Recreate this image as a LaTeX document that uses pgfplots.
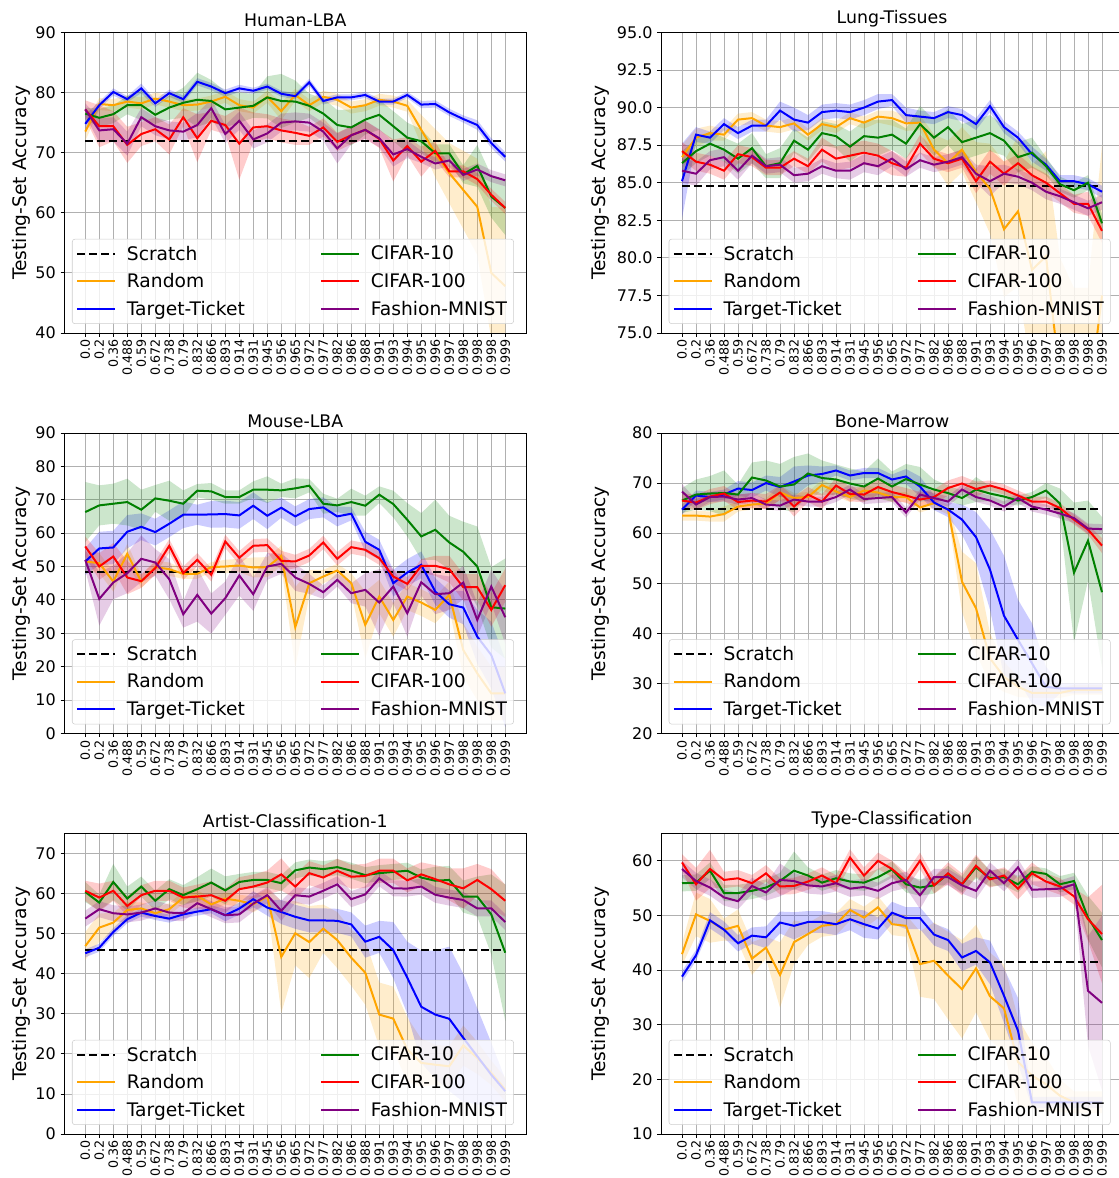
\documentclass[border=0pt]{standalone}
\usepackage{fontspec}
\setmainfont{DejaVu Sans}
\usepackage{pgfplots}
\usepackage{pgfplotstable}
\pgfplotsset{compat=1.18}
\usepgfplotslibrary{fillbetween}

\definecolor{cRnd}{RGB}{255,165,0}
\definecolor{cTT}{RGB}{0,0,255}
\definecolor{cCten}{RGB}{0,128,0}
\definecolor{cChun}{RGB}{255,0,0}
\definecolor{cFM}{RGB}{128,0,128}
\definecolor{gridgray}{RGB}{176,176,176}

% columns: k, Random (r), Target-Ticket (t), CIFAR-10 (c), CIFAR-100 (h), Fashion-MNIST (f); *s = spread
\pgfplotstableread{
k r rs t ts c cs h hs f fs
0 73.5 1.5 74.8 1.5 76.5 1.0 77.2 1.5 77.2 1.0
1 78.1 1.0 77.9 0.6 75.8 1.5 74.4 3.5 73.7 2.0
2 77.9 1.0 80.1 0.6 76.4 1.5 74.4 2.5 73.9 2.0
3 78.5 1.0 78.9 0.5 77.9 1.5 71.3 3.0 71.5 2.0
4 78.2 1.0 80.7 0.8 77.9 2.5 73.1 2.0 75.9 1.5
5 79.0 1.0 78.2 0.6 76.3 1.5 73.9 2.0 74.4 1.5
6 78.5 1.0 79.9 0.6 77.5 2.0 72.2 2.5 73.7 1.5
7 77.9 1.0 78.9 0.6 78.3 2.5 75.9 1.5 73.5 1.5
8 78.0 1.0 81.8 0.6 78.8 4.5 72.4 4.0 74.6 2.0
9 78.5 1.0 81.0 0.6 78.6 3.5 75.3 1.5 77.4 1.5
10 79.3 1.0 79.9 0.6 77.2 3.0 74.6 1.5 73.1 1.5
11 77.9 1.0 80.7 0.6 77.5 2.5 71.5 6.0 75.3 1.5
12 77.5 1.0 80.3 0.5 77.8 2.0 74.2 2.5 72.2 1.5
13 79.3 1.0 81.0 0.5 79.2 3.5 74.4 2.0 73.2 1.5
14 76.9 1.5 79.8 0.5 78.6 4.5 73.7 2.0 75.0 1.5
15 79.6 1.0 79.4 0.5 78.5 3.5 73.3 2.0 75.2 1.5
16 77.9 1.0 81.7 0.6 77.8 2.0 72.8 1.5 75.0 1.5
17 79.3 1.0 78.6 0.6 76.5 2.5 74.2 1.5 73.5 1.5
18 78.8 1.0 79.2 0.5 74.6 2.5 71.8 1.5 70.7 2.5
19 77.5 1.0 79.2 0.5 74.2 3.0 72.9 1.5 72.9 1.5
20 77.9 1.0 79.6 0.5 75.5 2.5 73.8 1.5 73.8 1.5
21 78.8 1.0 78.5 0.5 76.3 2.5 72.3 1.5 72.4 1.5
22 78.5 1.0 78.5 0.5 74.4 2.5 68.7 3.5 69.7 2.0
23 77.8 1.0 79.6 0.5 72.5 2.5 71.1 1.5 70.6 1.5
24 73.8 2.5 78.0 0.6 71.9 2.0 68.5 2.5 69.3 1.0
25 69.9 4.0 78.1 0.6 69.9 1.5 70.3 1.5 68.2 1.0
26 66.6 5.0 76.7 0.6 69.9 1.5 66.9 1.0 68.7 1.0
27 63.8 6.5 75.6 0.6 66.4 1.5 66.9 1.0 66.3 1.0
28 61.0 8.0 74.6 0.8 67.8 3.5 65.6 1.0 67.2 1.0
29 50.0 11.0 71.6 0.8 62.7 3.5 63.0 1.0 66.1 1.0
30 47.8 13.0 69.3 0.8 60.8 4.5 60.8 1.0 65.4 1.0
}\tabHuman

\pgfplotstableread{
k r rs t ts c cs h hs f fs
0 86.7 0.8 85.1 2.5 86.3 0.8 87.1 0.6 85.8 0.8
1 88.0 0.6 88.2 0.5 87.1 0.8 86.4 0.6 85.6 0.8
2 88.3 0.5 88.0 0.4 87.6 0.8 86.2 0.6 86.5 0.6
3 88.2 0.4 88.9 0.4 87.2 0.8 85.8 0.6 86.7 0.6
4 89.2 0.4 88.3 0.4 86.6 1.0 86.9 0.6 85.8 0.6
5 89.3 0.4 88.8 0.4 87.3 1.0 86.7 0.6 86.8 0.5
6 88.8 0.4 88.8 0.4 86.1 0.8 86.0 0.5 86.1 0.5
7 88.7 0.4 89.8 0.6 86.3 1.0 86.0 0.5 86.2 0.5
8 88.95 0.4 89.2 0.8 87.8 0.8 86.6 0.5 85.5 0.5
9 88.2 0.4 89.0 0.5 87.2 0.8 86.1 0.5 85.6 0.5
10 88.9 0.4 89.7 0.5 88.3 0.8 87.2 0.8 86.1 0.5
11 88.7 0.4 89.8 0.5 88.1 0.8 86.6 0.8 85.8 0.5
12 89.3 0.4 89.7 0.5 87.4 1.0 86.8 0.8 85.8 0.6
13 89.0 0.4 90.0 0.5 88.1 1.0 87.0 0.8 86.3 0.6
14 89.4 0.4 90.4 0.5 88.0 1.2 86.8 0.8 86.1 0.6
15 89.3 0.5 90.5 0.4 88.2 1.0 86.3 0.8 86.6 0.5
16 88.95 0.5 89.5 0.5 87.6 1.0 86.0 0.6 85.9 0.5
17 89.0 0.5 89.4 0.4 88.9 1.2 87.6 0.6 86.5 0.5
18 87.2 1.0 89.3 0.4 88.0 1.2 86.6 0.6 86.2 0.5
19 86.3 1.5 89.7 0.4 88.7 1.2 86.3 0.6 86.4 0.5
20 87.2 1.5 89.5 0.4 87.7 1.2 86.6 0.6 86.7 0.5
21 85.7 2.0 88.9 0.4 88.0 1.2 85.1 0.8 85.6 0.6
22 84.6 3.0 90.1 0.4 88.3 1.2 86.4 0.8 85.1 1.0
23 81.9 4.5 88.7 0.4 87.8 1.0 85.6 0.8 85.6 0.6
24 83.1 5.0 88.0 0.4 86.7 1.0 86.3 0.6 85.4 0.5
25 79.2 7.0 86.9 0.5 87.0 1.0 85.5 0.6 85.0 0.5
26 80.1 7.0 86.2 0.4 86.1 0.6 85.0 0.6 84.4 0.5
27 72.0 8.0 85.1 0.4 84.9 0.5 84.3 0.6 84.1 0.5
28 70.0 8.0 85.1 0.4 84.5 0.5 83.6 0.6 83.7 0.5
29 70.0 8.0 84.9 0.4 85.0 0.5 83.6 0.8 83.3 0.5
30 77.5 10.0 84.4 0.4 82.3 0.6 81.8 0.8 83.7 0.5
}\tabLung

\pgfplotstableread{
k r rs t ts c cs h hs f fs
0 51.5 3 51.5 4 66.3 9 56.0 3 52.0 3
1 51.0 3 55.4 5 68.3 6 50.0 4 40.3 8
2 45.5 3 55.7 5 68.8 6 53.0 4 45.2 5
3 53.8 3 60.4 5 69.3 7 46.7 5 48.0 6
4 45.5 2 61.9 4 67.0 6 45.6 2 52.3 7
5 49.8 2 60.3 4 70.4 4 49.5 2 51.2 4
6 49.2 2 62.8 4 69.7 6 56.2 2 46.2 6
7 47.8 1.5 65.5 4 68.8 4 48.0 2 35.7 4
8 47.8 1.5 65.5 3 72.7 2 52.0 2 41.5 8
9 49.8 1.5 65.6 4 72.5 2.5 47.5 2 35.9 6
10 50.0 2 65.7 4 70.8 2 57.5 2 40.5 5
11 50.3 2 65.3 4 70.8 2 52.6 2 47.3 6
12 49.7 3 68.2 4 73.0 2.5 56.2 2 41.7 5
13 49.8 3 65.2 4 73.0 4 56.4 2 50.0 4
14 53.2 3 67.6 3 72.8 2 51.7 3 50.8 3
15 31.8 12 65.0 3 73.4 3 51.5 2 46.7 4
16 45.0 4 67.2 3 74.2 2 53.3 2 44.8 3
17 47.0 2 67.7 3 68.8 3 57.2 2 42.3 2
18 48.8 2 65.0 3 68.3 2 52.3 2 46.0 2
19 45.0 3 65.8 2 69.3 4 55.8 2 42.0 3
20 32.5 10 57.4 3 68.2 3 55.0 2 43.0 5
21 41.0 5 55.0 3 71.5 2.5 52.5 2 39.2 10
22 34.0 5 45.0 4 68.7 4 47.0 2 44.0 5
23 41.0 4 48.2 4 64.0 5 44.8 2 36.0 7
24 39.2 4 50.5 4 59.0 7 50.2 2 45.3 4
25 37.0 4 42.5 4 61.0 9 50.2 3 41.7 6
26 41.5 4 38.7 4 57.2 8 49.2 4 42.0 5
27 25.0 8 37.7 5 54.4 9 43.8 4 45.2 5
28 18.0 8 29.0 8 50.0 12 43.8 4 34.0 5
29 12.0 8 23.5 10 37.8 12 37.0 5 44.0 5
30 12.0 8 12.0 10 37.4 15 44.4 5 34.8 8
}\tabMouse

\pgfplotstableread{
k r rs t ts c cs h hs f fs
0 63.5 1 64.7 1 66.5 2.5 66.5 1.5 68.3 1.5
1 63.5 1 67.5 1 67.7 3 66.1 1.5 65.7 1
2 63.3 1 67.2 1 67.9 3.5 67.3 1.5 67.2 1
3 63.8 1.5 67.7 1 68.0 4.5 67.9 1.5 67.3 1
4 65.3 1 68.9 1.5 67.7 2 66.2 1.5 66.7 1
5 65.7 1 68.6 1.5 71.1 3 66.5 1.5 67.0 1
6 65.9 1 70.0 1.5 70.5 4 66.3 1.5 65.7 1
7 68.1 1.5 69.2 2 69.3 4.5 68.1 1.5 65.5 1
8 67.0 1 70.3 3 69.7 5.5 65.3 2 66.7 1
9 67.2 1 71.5 2 71.9 4 67.7 1.5 66.3 1
10 69.6 1 71.8 1.5 71.0 3.5 66.3 1.5 66.3 1
11 68.3 1 72.5 1 70.7 3 69.5 1.5 67.2 1
12 67.2 1 71.5 1 69.9 3 67.8 1.5 68.7 1
13 68.5 1 72.0 1 69.3 3 67.7 1.5 66.8 1
14 68.1 1 72.0 1 70.9 4 69.2 1.5 67.0 1
15 67.2 1 70.7 1 69.3 3 68.2 1.5 67.2 1
16 67.2 1 71.3 1.5 70.8 3 67.5 1.5 64.1 1
17 65.1 1 69.3 2 69.7 3.5 66.7 1.5 67.7 1
18 66.0 1 66.1 1.5 68.7 2 67.2 1.5 67.0 1
19 64.7 1 64.7 1.5 68.0 1.5 69.0 1.5 66.3 1
20 50.3 6 62.7 3 67.0 1.5 69.9 1.5 68.7 1
21 45.0 9 59.2 5 68.7 2.5 68.8 1.5 67.2 1
22 35.0 5 52.7 8 67.9 1.5 69.5 1 66.5 1
23 31.3 3 43.5 12 67.3 1.5 68.7 1 65.3 1
24 29.3 2 38.7 8 66.5 1 67.5 1 67.0 1
25 28.1 1 34.0 8 67.2 1 66.3 1 65.3 1
26 28.1 1 29.3 4 68.5 1.5 66.3 1 64.7 1
27 28.1 1 29.0 1 65.9 3 65.0 1 63.9 1
28 28.7 1 29.0 1 52.1 14 62.7 1 63.0 1
29 28.7 1 29.0 1 58.5 8 60.7 1 60.9 1
30 28.7 1 29.0 1 48.2 15 57.5 1.5 60.8 1
}\tabBone

\pgfplotstableread{
k r rs t ts c cs h hs f fs
0 46.9 3.5 45.1 1 60.4 2.5 60.7 2.5 53.75 2
1 51.5 3.5 46.5 1 57.75 2 59.0 3.5 56.1 2
2 52.75 2.5 50.4 1 62.9 4.5 60.7 2.5 55.1 2
3 55.9 2 53.6 1 58.75 3 56.9 2.5 54.8 2
4 56.3 1.5 55.25 1 61.75 2.5 59.6 2.5 55.25 2
5 55.1 1.5 54.4 1 58.2 2.5 60.7 2.5 56.3 2
6 56.1 1.5 53.75 1 61.1 2.5 60.7 2.5 55.25 2
7 59.0 1.5 54.8 1 59.6 2.5 59.0 2.5 55.1 2
8 59.4 1.5 55.5 1 61.1 3 59.25 3 57.6 2
9 57.3 1.5 56.1 1 62.75 3.5 59.6 3.5 56.1 2
10 58.75 1.5 54.6 1.5 60.8 3.5 58.2 3 54.6 2
11 58.2 1.5 56.25 1.5 62.9 2 61.1 3 54.8 2
12 57.3 2 58.6 2 63.4 2 61.75 3 57.5 2
13 59.25 2 56.5 2 63.4 2 62.75 3 59.6 2
14 44.2 14 55.4 3 62.6 2 64.8 4 55.7 2.5
15 50.1 8 54.2 3 65.8 2 61.75 3 59.6 2
16 47.9 9 53.3 3 66.5 2 65.1 3 59.25 2
17 51.25 6 53.3 3 66.1 2 64.0 3 60.7 2
18 48.4 7 53.2 3 66.6 2 65.7 3 62.3 2
19 44.0 7 52.3 3 65.7 2 64.2 3 58.6 2
20 40.25 8 48.0 4 64.6 2 64.4 3 59.8 2
21 29.8 8 49.2 4 65.1 2 65.7 3 63.8 2
22 28.8 8 45.9 7 65.4 2 65.7 3 61.3 2
23 21.1 8 39.0 9 65.7 2 63.3 3 61.25 2
24 17.75 6 31.75 14 64.0 2 64.8 3 61.75 2
25 17.3 5 29.8 16 63.2 3.5 63.6 3.5 59.7 2
26 16.9 5 28.75 18 63.4 3.5 62.3 4 59.0 2
27 22.1 5 24.0 16 59.25 4 61.3 5 58.4 2
28 19.0 4 19.4 12 59.25 5 63.4 4 56.3 2
29 15.25 3 14.8 8 54.8 10 61.1 5 56.3 2
30 11.1 3 10.7 3 45.25 17 58.2 4 52.9 2
}\tabArtist

\pgfplotstableread{
k r rs t ts c cs h hs f fs
0 42.9 2 38.8 1 55.9 1.5 59.7 1.5 58.5 1.5
1 50.2 4 42.7 1 56.0 1.5 55.7 3 56.3 1.5
2 49.0 4 49.1 1.5 58.2 1.5 58.5 3.5 55.1 1.5
3 47.4 2 47.4 1.5 54.1 1.5 56.5 1.5 53.3 1.5
4 48.1 3 44.9 1.5 54.1 1.5 56.8 1.5 52.6 1.5
5 42.1 3 46.3 1.5 54.5 1.5 55.9 1.5 55.4 1.5
6 44.1 2 46.0 2 55.1 1.5 57.7 1.5 54.2 1.5
7 39.1 6 48.7 2 56.3 1.5 55.3 1.5 56.5 3
8 45.1 4 48.1 2.5 58.2 3.5 55.4 1.5 56.3 1.5
9 46.6 2 48.8 2 57.3 1.5 56.2 1.5 55.5 1.5
10 48.1 2 48.8 2 56.0 1.5 57.3 1.5 55.3 1.5
11 48.4 2 48.4 2 56.8 1.5 55.9 1.5 55.9 1.5
12 51.0 2 49.3 2 56.2 1.5 60.6 1.5 54.9 1.5
13 49.6 2 48.4 2.5 56.0 1.5 57.3 1.5 55.2 1.5
14 51.5 2 47.6 2 57.0 1.5 60.0 1.5 54.5 1.5
15 48.4 2 50.5 2 58.4 1.5 58.5 1.5 55.9 1.5
16 48.1 2 49.5 2 55.7 1.5 56.3 1.5 56.5 1.5
17 41.1 6 49.5 2 55.1 1.5 60.0 1.5 53.7 2.5
18 41.7 7 46.5 2 55.5 1.5 55.5 1.5 57.0 1.5
19 39.0 8 45.5 2 57.6 1.5 57.7 2 57.0 1.5
20 36.5 9 42.3 2.5 55.7 1.5 55.7 2 55.5 1.5
21 40.3 8 43.5 2.5 58.8 2 59.1 2 54.5 1.5
22 35.2 8 41.4 4 56.8 1.5 56.6 1.5 58.2 1.5
23 33.0 8 35.3 5 57.0 1.5 57.3 1.5 55.9 1.5
24 23.2 8 28.9 6 55.7 1.5 54.9 2 58.8 1.5
25 20.7 6 15.8 1 58.0 1 57.7 2 54.7 1.5
26 19.1 5 15.8 1 57.6 1 56.2 1.5 54.8 1.5
27 17.0 3 15.8 1 55.7 1.5 55.3 1.5 54.9 1.5
28 15.8 2 15.8 1 56.3 1.5 53.5 1.5 55.7 1.5
29 15.8 2 15.8 1 49.6 4 49.3 4 36.2 10
30 15.8 2 15.8 1 45.5 5 46.6 9 34.0 16
}\tabType

% band + mean line of one series
\newcommand{\series}[3]{%
  \addplot[draw=none, name path=up#2, forget plot] table[x=k, y expr=\thisrow{#2}+\thisrow{#2s}] {#1};
  \addplot[draw=none, name path=lo#2, forget plot] table[x=k, y expr=\thisrow{#2}-\thisrow{#2s}] {#1};
  \addplot[fill=#3, fill opacity=0.2, draw=none, forget plot] fill between[of=up#2 and lo#2];
  \addplot[#3, line width=1.5pt, forget plot] table[x=k, y=#2] {#1};
}

\newcommand{\allseries}[2]{%
  \addplot[black, line width=1.5pt, dash pattern=on 6pt off 3pt, forget plot] coordinates {(0,#2) (30,#2)};
  \series{#1}{r}{cRnd}
  \series{#1}{t}{cTT}
  \series{#1}{c}{cCten}
  \series{#1}{h}{cChun}
  \series{#1}{f}{cFM}
  \addlegendimage{black, line width=1.5pt, dash pattern=on 6pt off 3pt}
  \addlegendentry{\makebox[137pt][l]{Scratch}}
  \addlegendimage{cCten, line width=1.5pt}
  \addlegendentry{CIFAR-10}
  \addlegendimage{cRnd, line width=1.5pt}
  \addlegendentry{\makebox[137pt][l]{Random}}
  \addlegendimage{cChun, line width=1.5pt}
  \addlegendentry{CIFAR-100}
  \addlegendimage{cTT, line width=1.5pt}
  \addlegendentry{\makebox[137pt][l]{Target-Ticket}}
  \addlegendimage{cFM, line width=1.5pt}
  \addlegendentry{Fashion-MNIST}
}

\pgfplotsset{
  panel/.style={
    scale only axis, width=346.5pt, height=225.4pt, anchor=south west,
    xmin=-1.5, xmax=31.5, xtick={0,...,30},
    xticklabels={0.0,0.2,0.36,0.488,0.59,0.672,0.738,0.79,0.832,0.866,0.893,0.914,0.931,0.945,0.956,0.965,0.972,0.977,0.982,0.986,0.988,0.991,0.993,0.994,0.995,0.996,0.997,0.998,0.998,0.998,0.999},
    xtick pos=lower, ytick pos=left,
    tick align=outside, major tick length=2.8pt,
    every tick/.style={black, line width=0.6pt},
    axis line style={line width=0.6pt},
    grid=major, grid style={gridgray, line width=0.6pt},
    xticklabel style={rotate=90, anchor=east, font=\fontsize{9.5}{11}\selectfont, inner sep=2pt},
    yticklabel style={font=\fontsize{12}{14}\selectfont},
    /pgf/number format/assume math mode=true,
    title style={font=\fontsize{13}{15}\selectfont, inner sep=3pt, yshift=-5pt},
    ylabel={Testing-Set Accuracy},
    ylabel style={font=\fontsize{14}{16}\selectfont, anchor=center},
    legend columns=2, legend cell align=left,
    legend style={font=\fontsize{14}{16}\selectfont, draw=black!20, rounded corners=2pt,
      fill=white, fill opacity=0.8, text opacity=1,
      at={(0.0167,0.03)}, anchor=south west, inner xsep=3pt, inner ysep=3pt,
      nodes={inner sep=2pt},
      /tikz/every odd column/.append style={column sep=6pt},
      /tikz/every even column/.append style={column sep=6pt},
      row sep=4.5pt},
    legend image code/.code={\draw[##1] (0pt,0pt) -- (28.5pt,0pt);},
  },
  leftcol/.style={panel, ylabel style={at={(axis description cs:-0.093,0.5)}}},
  rightcol/.style={panel, ylabel style={at={(axis description cs:-0.132,0.5)}}},
}

\begin{document}
\begin{tikzpicture}

\begin{axis}[leftcol, at={(48.2pt,633.75pt)}, title={Human-LBA},
  ymin=40, ymax=90, ytick={40,50,...,90}]
  \allseries{\tabHuman}{71.9}
\end{axis}

\begin{axis}[rightcol, at={(495.75pt,633.75pt)}, title={Lung-Tissues},
  ymin=75, ymax=95, ytick={75,77.5,...,95},
  yticklabel style={/pgf/number format/fixed, /pgf/number format/fixed zerofill, /pgf/number format/precision=1}]
  \allseries{\tabLung}{84.75}
\end{axis}

\begin{axis}[leftcol, at={(48.2pt,333.4pt)}, title={Mouse-LBA},
  ymin=0, ymax=90, ytick={0,10,...,90}]
  \allseries{\tabMouse}{48.5}
\end{axis}

\begin{axis}[rightcol, at={(495.75pt,333.4pt)}, title={Bone-Marrow},
  ymin=20, ymax=80, ytick={20,30,...,80}]
  \allseries{\tabBone}{64.9}
\end{axis}

\begin{axis}[leftcol, at={(48.2pt,33pt)}, title={Artist-Classification-1},
  ymin=0, ymax=75, ytick={0,10,...,70}]
  \allseries{\tabArtist}{45.8}
\end{axis}

\begin{axis}[rightcol, at={(495.75pt,33pt)}, title={Type-Classification},
  ymin=10, ymax=65, ytick={10,20,...,60}]
  \allseries{\tabType}{41.4}
\end{axis}

\pgfresetboundingbox
\useasboundingbox (0,0) rectangle (838.5pt,883.5pt);
\end{tikzpicture}
\end{document}
